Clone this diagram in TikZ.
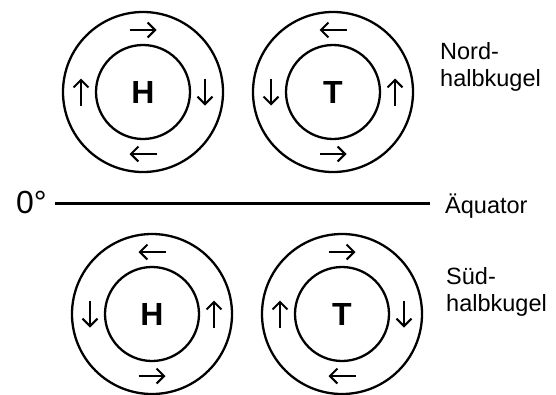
\documentclass[tikz,border=0pt]{standalone}
\usepackage{fontspec}
\setmainfont{Liberation Sans}
\usetikzlibrary{arrows.meta}
\tikzset{
  ring/.style={circle, draw, line width=2.3pt, inner sep=0pt},
  windarrow/.style={line width=2pt, -{Straight Barb[length=7.5pt,width=15pt]}},
  lbl/.style={inner sep=0pt, font=\fontsize{23.5}{27}\selectfont, align=left},
}
\begin{document}
\begin{tikzpicture}[x=1pt,y=-1pt]
\useasboundingbox (0,0) rectangle (556,394);
\foreach \n/\x/\y/\l/\d in {tl/143/92/H/1, tr/333/92/T/-1, bl/152/314/H/-1, br/342/314/T/1}{
  \node[ring, minimum size=160pt] (\n o) at (\x,\y) {};
  \node[ring, minimum size=94pt, font=\fontsize{32}{32}\selectfont\bfseries] (\n) at (\x,\y) {\l};
  \draw[windarrow] ([shift={(-13.5*\d,-62)}]\n.center) -- ([shift={(13.5*\d,-62)}]\n.center);
  \draw[windarrow] ([shift={(62,-13.5*\d)}]\n.center) -- ([shift={(62,13.5*\d)}]\n.center);
  \draw[windarrow] ([shift={(13.5*\d,62)}]\n.center) -- ([shift={(-13.5*\d,62)}]\n.center);
  \draw[windarrow] ([shift={(-62,13.5*\d)}]\n.center) -- ([shift={(-62,-13.5*\d)}]\n.center);
}
\node[inner sep=0pt, anchor=base west, font=\fontsize{32}{32}\selectfont] (zero) at (16,213) {0°};
\node[inner sep=0pt, anchor=base west, font=\fontsize{23.5}{27}\selectfont] (aeq) at (445,213) {Äquator};
\coordinate (eqL) at (55,203.5);
\coordinate (eqR) at (430,203.5);
\draw[line width=2.3pt] (eqL) -- (eqR);
\node[lbl, anchor=base west] (nord) at (440,86.7) {Nord-\\halbkugel};
\node[lbl, anchor=base west] (sued) at (446,311.7) {Süd-\\halbkugel};
\end{tikzpicture}
\end{document}
